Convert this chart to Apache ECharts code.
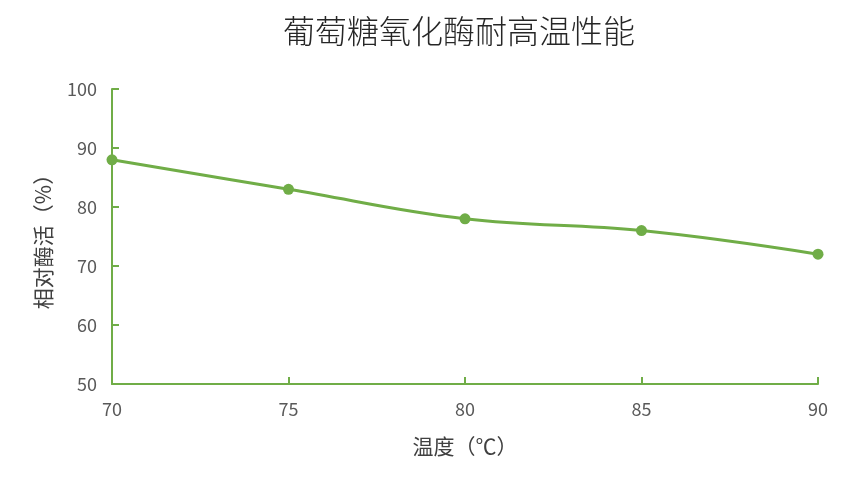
<!DOCTYPE html>
<html><head><meta charset="utf-8">
<script src="https://cdn.jsdelivr.net/npm/echarts@6/dist/echarts.min.js"></script>
<style>html,body{margin:0;padding:0;background:#fff}#c{width:844px;height:490px}</style>
</head><body><div id="c"></div>
<script>
const temperatures = [70, 75, 80, 85, 90];
const activity = [88, 83, 78, 76, 72];
const xTicks = [70, 75, 80, 85, 90];
const yTicks = [50, 60, 70, 80, 90, 100];
const green = '#70AD47';
const font = '"Microsoft YaHei","Noto Sans CJK SC",sans-serif';
const chart = echarts.init(document.getElementById('c'));
chart.setOption({
  animation: false,
  title: {
    text: '葡萄糖氧化酶耐高温性能',
    left: 454, top: 10, textAlign: 'center',
    textStyle: {fontSize: 32, fontWeight: 300, color: '#262626', fontFamily: font}
  },
  grid: {left: 112, right: 26, top: 89, bottom: 106},
  xAxis: {
    type: 'value', min: xTicks[0], max: xTicks[xTicks.length-1], interval: 5,
    name: '温度（℃）', nameLocation: 'middle', nameGap: 52,
    nameTextStyle: {fontSize: 21, color: '#404040', fontFamily: font},
    axisLine: {lineStyle: {color: green, width: 2}},
    axisTick: {show: true, inside: true, length: 7, lineStyle: {color: green, width: 2}},
    axisLabel: {fontSize: 18, color: '#595959', margin: 16, fontFamily: font},
    splitLine: {show: false}
  },
  yAxis: {
    type: 'value', min: yTicks[0], max: yTicks[yTicks.length-1], interval: 10,
    name: '相对酶活（%）', nameLocation: 'middle', nameGap: 58, nameRotate: 90,
    nameTextStyle: {fontSize: 21, color: '#404040', fontFamily: font},
    axisLine: {show: true, lineStyle: {color: green, width: 2}},
    axisTick: {show: true, inside: true, length: 7, lineStyle: {color: green, width: 2}},
    axisLabel: {fontSize: 18, color: '#595959', margin: 15, fontFamily: font},
    splitLine: {show: false}
  },
  series: [{
    type: 'line', smooth: 0.4,
    data: temperatures.map((t, i) => [t, activity[i]]),
    symbol: 'circle', symbolSize: 11,
    itemStyle: {color: green},
    lineStyle: {color: green, width: 3}
  }]
});
</script></body></html>
